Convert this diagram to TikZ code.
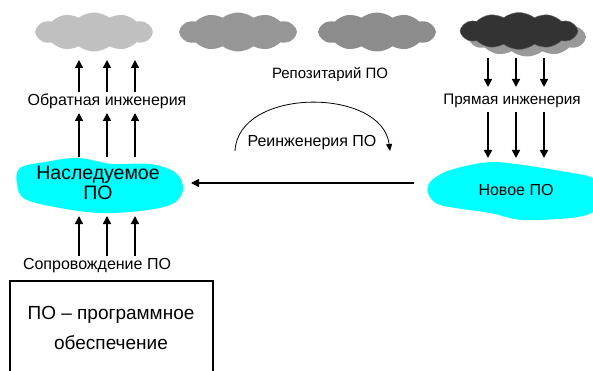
\documentclass[tikz,border=0pt]{standalone}
\usepackage{fontspec}
\setmainfont{Liberation Sans}
\usetikzlibrary{shapes.symbols,arrows.meta}
\definecolor{aqua}{RGB}{0,255,255}
\definecolor{cg1}{RGB}{192,192,192}
\definecolor{cg2}{RGB}{150,150,150}
\definecolor{cg3}{RGB}{140,140,140}
\definecolor{cg4}{RGB}{51,51,51}
\definecolor{cgs}{RGB}{153,153,153}
\begin{document}
\begin{tikzpicture}[x=1pt,y=-1pt,
  lbl/.style={inner sep=0pt,font=\fontsize{16}{18}\selectfont},
  cl/.style={cloud,cloud puffs=12,cloud puff arc=75,aspect=3.2,inner sep=0pt,minimum width=118pt,minimum height=39pt,draw=none},
  arr/.style={line width=1.6pt,-{Triangle[length=8pt,width=8pt]}},
  thin arr/.style={line width=0.8pt,-{Triangle[length=7pt,width=6pt]}}]
\useasboundingbox (0,0) rectangle (593,371);
% clouds
\node[cl,fill=cg1] (c1) at (94,32) {};
\node[cl,fill=cg2] (c2) at (238,32) {};
\node[cl,fill=cg3] (c3) at (377,32) {};
\node[cl,fill=cgs] (c4s) at (527,37) {};
\node[cl,fill=cg4,draw=black!60,line width=0.4pt,minimum height=37pt] (c4) at (519,31) {};
\node[lbl,font=\fontsize{15}{17}\selectfont] (rep) at (330,74) {Репозитарий ПО};
% labels
\node[lbl] (obr) at (107,101) {Обратная инженерия};
\node[lbl] (sopr) at (97,266) {Сопровождение ПО};
\node[lbl,font=\fontsize{15.3}{17}\selectfont] (pryam) at (512,101) {Прямая инженерия};
\node[lbl] (rein) at (312,143) {Реинженерия ПО};
% blobs
\fill[aqua] plot[smooth cycle,tension=0.6] coordinates{(20,168) (45,162) (78,158) (112,164) (150,164) (176,173) (183,190) (172,204) (140,211) (100,213) (60,208) (25,199) (17,184)};
\node[inner sep=0pt,align=center,font=\fontsize{19.5}{20}\selectfont] (nasl) at (98,183) {Наследуемое\\ПО};
\fill[aqua] plot[smooth cycle,tension=0.5] coordinates{(430,182) (445,172) (470,165) (495,162) (530,166) (560,171) (593,178) (600,195) (593,212) (570,218) (522,220) (490,213) (440,205) (428,193)};
\node[lbl] (nov) at (516,190) {Новое ПО};
% box
\draw[line width=1.3pt] (10,380) |- (213,281) -- (213,380);
\node[align=center,inner sep=0pt,font=\fontsize{19}{30}\selectfont] (po) at (111,328) {ПО – программное\\обеспечение};
% left arrows
\foreach \x in {79,107,135}{
  \draw[arr] (\x,92) -- (\x,60);
  \draw[arr] (\x,157) -- (\x,113);
  \draw[arr] (\x,256) -- (\x,216);
}
% right arrows
\foreach \x in {488,516,544}{
  \draw[arr] (\x,58) -- (\x,87);
  \draw[arr] (\x,112) -- (\x,158);
}
% horizontal
\draw[arr] (414,183) -- (191,183);
% arc
\draw[thin arr] (235,151) .. controls (238,87) and (382,87) .. (390,151);
\end{tikzpicture}
\end{document}
